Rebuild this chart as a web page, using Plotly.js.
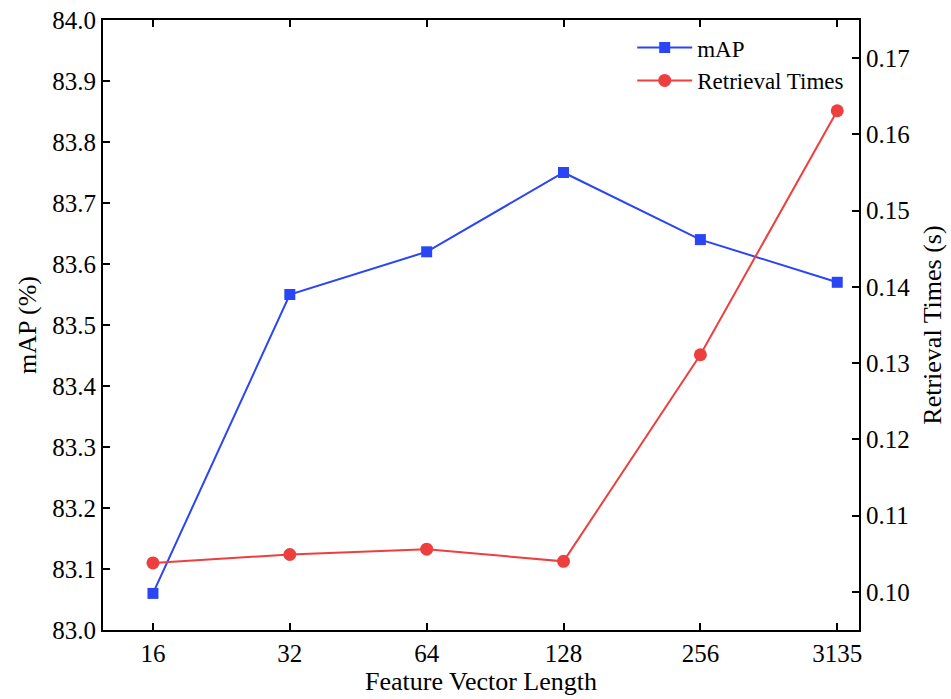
<!DOCTYPE html>
<html>
<head>
<meta charset="utf-8">
<script src="https://cdn.plot.ly/plotly-3.0.1.min.js"></script>
<style>html,body{margin:0;padding:0;background:#fff;}#chart{width:951px;height:699px;}</style>
</head>
<body>
<div id="chart"></div>
<script>
const categories = ["16", "32", "64", "128", "256", "3135"];
const mapValues = [83.06, 83.55, 83.62, 83.75, 83.64, 83.57];
const retrievalTimes = [0.1038, 0.1049, 0.1056, 0.1040, 0.1311, 0.1631];
const leftTicks = [83.0, 83.1, 83.2, 83.3, 83.4, 83.5, 83.6, 83.7, 83.8, 83.9, 84.0];
const rightTicks = [0.10, 0.11, 0.12, 0.13, 0.14, 0.15, 0.16, 0.17];

const xIdx = categories.map((c, i) => i);
const font = "Liberation Serif";

const traces = [
  {
    x: xIdx, y: mapValues, name: "mAP", type: "scatter", mode: "lines+markers",
    line: {color: "#2a45f5", width: 2},
    marker: {symbol: "square", size: 11, color: "#2a45f5"},
    yaxis: "y"
  },
  {
    x: xIdx, y: retrievalTimes, name: "Retrieval Times", type: "scatter", mode: "lines+markers",
    line: {color: "#ee3f3f", width: 2},
    marker: {symbol: "circle", size: 13, color: "#ee3f3f"},
    yaxis: "y2"
  }
];

const layout = {
  width: 951, height: 699,
  margin: {l: 103, r: 92, t: 20, b: 69},
  paper_bgcolor: "#fff", plot_bgcolor: "#fff",
  font: {family: font, color: "#000", size: 24},
  showlegend: true,
  legend: {x: 0.7, y: 0.99, xanchor: "left", yanchor: "top", bgcolor: "rgba(0,0,0,0)",
           itemwidth: 55,
           font: {family: font, size: 23, color: "#000"}, tracegroupgap: 0},
  xaxis: {
    range: [-0.365, 5.159], tickmode: "array", tickvals: xIdx, ticktext: categories,
    showgrid: false, zeroline: false, showline: true, linecolor: "#000", linewidth: 2,
    mirror: "ticks", ticks: "inside", ticklen: 7, tickwidth: 2, tickcolor: "#000",
    tickfont: {family: font, size: 25, color: "#000"},
    title: {text: "Feature Vector Length", font: {family: font, size: 26, color: "#000"}, standoff: 6}
  },
  yaxis: {
    range: [83.0, 84.0], tickmode: "array", tickvals: leftTicks,
    ticktext: leftTicks.map(v => v.toFixed(1)),
    showgrid: false, zeroline: false, showline: true, linecolor: "#000", linewidth: 2,
    ticks: "inside", ticklen: 7, tickwidth: 2, tickcolor: "#000",
    tickfont: {family: font, size: 25, color: "#000"},
    title: {text: "mAP (%)", font: {family: font, size: 26, color: "#000"}, standoff: 8}
  },
  yaxis2: {
    range: [0.095, 0.175], overlaying: "y", side: "right", tickmode: "array", tickvals: rightTicks,
    ticktext: rightTicks.map(v => v.toFixed(2)),
    showgrid: false, zeroline: false, showline: true, linecolor: "#000", linewidth: 2,
    ticks: "inside", ticklen: 7, tickwidth: 2, tickcolor: "#000",
    tickfont: {family: font, size: 25, color: "#000"},
    title: {text: "Retrieval Times (s)", font: {family: font, size: 26, color: "#000"}, standoff: 14}
  }
};

Plotly.newPlot("chart", traces, layout, {displayModeBar: false, staticPlot: true});
</script>
</body>
</html>
